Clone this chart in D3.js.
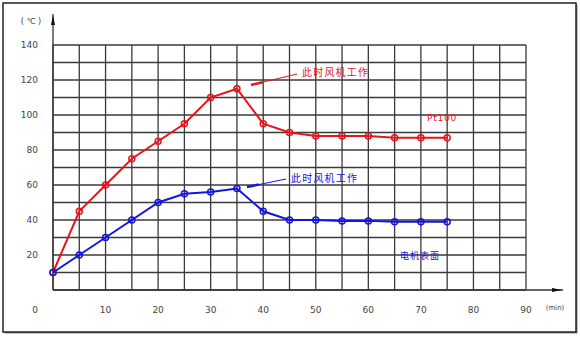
<!doctype html>
<html lang="en">
<head>
  <meta charset="utf-8">
  <title>Pt100 / 电机表面</title>
  <script src="https://cdnjs.cloudflare.com/ajax/libs/d3/7.8.5/d3.min.js"></script>
  <style>
    body { margin: 0; background: #fff; }
    text { font-family: "DejaVu Sans", "Noto Sans CJK SC", sans-serif; }
  </style>
</head>
<body>
<svg width="580" height="337" id="svg"></svg>
<script>
// time in minutes
var minutes = [0, 5, 10, 15, 20, 25, 30, 35, 40, 45, 50, 55, 60, 65, 70, 75];
// Pt100 temperature (red) and motor surface temperature (blue), ℃
var pt100 = [10, 45, 60, 75, 85, 95, 110, 115, 95, 90, 88, 88, 88, 87, 87, 87];
var surface = [10, 20, 30, 40, 50, 55, 56, 58, 45, 40, 40, 39.5, 39.5, 39, 39, 39];
var xTicks = [0, 10, 20, 30, 40, 50, 60, 70, 80, 90];
var yTicks = [20, 40, 60, 80, 100, 120, 140];

var svg = d3.select('#svg');

// outer frame
svg.append('rect').attr('x', 4.5).attr('y', 4.5).attr('width', 573).attr('height', 329)
  .attr('fill', '#888').attr('stroke', 'none');
svg.append('rect').attr('x', 3).attr('y', 3).attr('width', 573).attr('height', 329)
  .attr('fill', '#fff').attr('stroke', '#222').attr('stroke-width', 1.5);

var x = d3.scaleLinear().domain([0, 90]).range([53, 526]);
var y = d3.scaleLinear().domain([0, 140]).range([290, 45]);

var grid = svg.append('g').attr('stroke', '#3a3a3a').attr('stroke-width', 1.3);
d3.range(0, 91, 5).forEach(function(v) {
  grid.append('line').attr('x1', x(v)).attr('x2', x(v)).attr('y1', y(0)).attr('y2', y(140));
});
d3.range(0, 141, 10).forEach(function(v) {
  grid.append('line').attr('x1', x(0)).attr('x2', x(90)).attr('y1', y(v)).attr('y2', y(v));
});

// axes with arrows
svg.append('line').attr('x1', x(0)).attr('x2', x(0)).attr('y1', y(0)).attr('y2', 14)
  .attr('stroke', '#333').attr('stroke-width', 1.3);
svg.append('line').attr('x1', x(0)).attr('x2', 563).attr('y1', y(0)).attr('y2', y(0))
  .attr('stroke', '#333').attr('stroke-width', 1.3);
svg.append('path').attr('d', 'M' + x(0) + ',15 L' + (x(0) - 2) + ',25 L' + (x(0) + 2) + ',25 Z').attr('fill', '#111');
svg.append('path').attr('d', 'M562,' + y(0) + ' L552,' + (y(0) - 2) + ' L552,' + (y(0) + 2) + ' Z').attr('fill', '#111');

// tick labels
var lab = svg.append('g').attr('fill', '#444').attr('font-size', 9);
yTicks.forEach(function(v) {
  lab.append('text').attr('x', 38).attr('y', y(v) + 3).attr('text-anchor', 'end').text(v);
});
xTicks.forEach(function(v) {
  lab.append('text').attr('x', v === 0 ? 35 : x(v)).attr('y', 313).attr('text-anchor', 'middle').text(v);
});
lab.append('text').attr('x', 31).attr('y', 24).attr('text-anchor', 'middle').attr('font-size', 8).text('( ℃ )');
lab.append('text').attr('x', 555).attr('y', 310).attr('text-anchor', 'middle').attr('font-size', 7).text('(min)');

function series(vals, color) {
  var pts = minutes.map(function(m, i) { return [x(m), y(vals[i])]; });
  svg.append('path').attr('d', d3.line()(pts)).attr('fill', 'none')
    .attr('stroke', color).attr('stroke-width', 2);
  svg.append('g').selectAll('circle').data(pts).enter().append('circle')
    .attr('cx', function(d) { return d[0]; }).attr('cy', function(d) { return d[1]; })
    .attr('r', 3).attr('fill', 'none').attr('stroke', color).attr('stroke-width', 1.5);
}
series(pt100, '#e8141c');
series(surface, '#1414e0');

function note(tx, ty, x1, y1, x2, y2, color, label) {
  svg.append('line').attr('x1', x1).attr('y1', y1).attr('x2', x2).attr('y2', y2)
    .attr('stroke', color).attr('stroke-width', 1);
  var ang = Math.atan2(y1 - y2, x1 - x2);
  var len = 12;
  svg.append('line').attr('x1', x2).attr('y1', y2)
    .attr('x2', x2 + len * Math.cos(ang)).attr('y2', y2 + len * Math.sin(ang))
    .attr('stroke', color).attr('stroke-width', 2.5);
  svg.append('text').attr('x', tx).attr('y', ty).attr('fill', color)
    .attr('font-size', 10).attr('letter-spacing', 1.2).text(label);
}
note(302, 76, 297, 74, 251, 85, '#e8141c', '此时风机工作');
note(291, 182, 286, 179, 247, 187, '#1414e0', '此时风机工作');

svg.append('text').attr('x', 427).attr('y', 121).attr('fill', '#e8141c').attr('font-size', 9).attr('letter-spacing', 0.8).text('Pt100');
svg.append('text').attr('x', 400).attr('y', 259).attr('fill', '#1414e0').attr('font-size', 9).attr('letter-spacing', 1).text('电机表面');
</script>
</body>
</html>
